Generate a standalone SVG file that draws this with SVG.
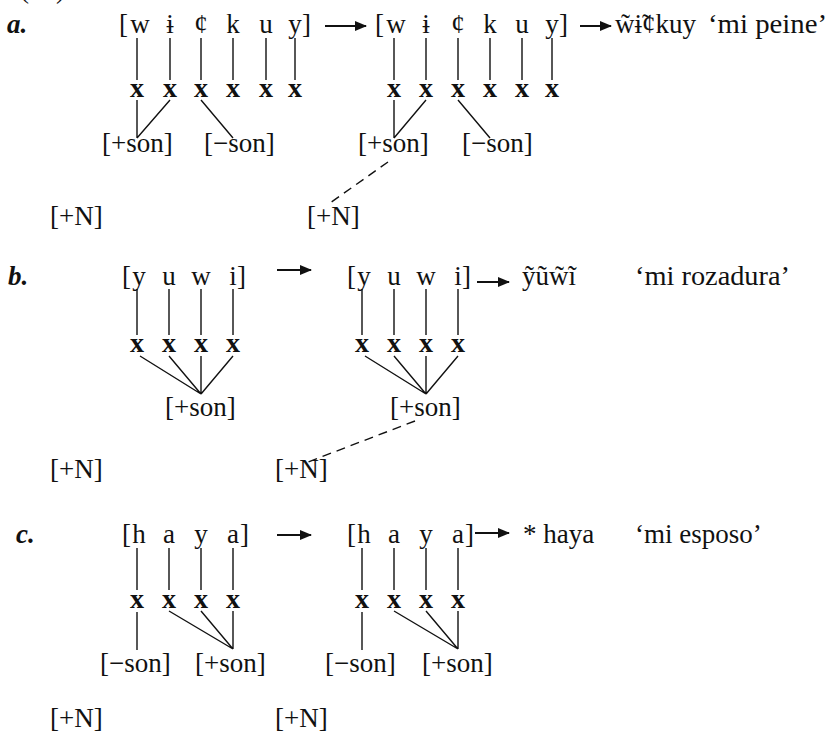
<svg xmlns="http://www.w3.org/2000/svg" width="831" height="739" viewBox="0 0 831 739">
<defs>
<style>
text{font-family:"Liberation Serif","DejaVu Serif",serif;font-size:27px;fill:#111}
.m{text-anchor:middle}
.x{font-size:28px;font-weight:bold;text-anchor:middle}
.lab{font-style:italic;font-weight:bold}
.ln{stroke:#111;stroke-width:1.4;fill:none}
.dash{stroke:#111;stroke-width:1.4;fill:none;stroke-dasharray:9 6}
.arr{stroke:#111;stroke-width:2;fill:none;marker-end:url(#ah)}
</style>
<marker id="ah" markerUnits="userSpaceOnUse" markerWidth="12" markerHeight="10" refX="11" refY="5" orient="auto">
<path d="M0,0 L12,5 L0,10 Z" fill="#111"/>
</marker>
</defs>
<rect width="831" height="739" fill="#fff"/>
<text x="20" y="-2">(31)</text>

<g id="label-a"><text class="lab" x="7" y="33">a.</text></g>
<g id="a-in-seg">
<text x="119" y="33">[</text>
<text class="m" x="140" y="33">w</text><text class="m" x="170" y="33">ɨ</text><text class="m" x="201" y="33">ȼ</text><text class="m" x="233" y="33">k</text><text class="m" x="266" y="33">u</text><text class="m" x="295" y="33">y</text>
<text x="302" y="33">]</text>
</g>
<g id="a-in-x">
<text class="x" x="137" y="97">x</text><text class="x" x="170" y="97">x</text><text class="x" x="201" y="97">x</text><text class="x" x="233" y="97">x</text><text class="x" x="266" y="97">x</text><text class="x" x="295" y="97">x</text>
</g>
<g id="a-in-son"><text x="102" y="152">[+son]</text><text x="204" y="152">[−son]</text></g>
<g id="a-in-N"><text x="50" y="225">[+N]</text></g>

<g id="a-out-seg">
<text x="375" y="33">[</text>
<text class="m" x="396" y="33">w</text><text class="m" x="426" y="33">ɨ</text><text class="m" x="458" y="33">ȼ</text><text class="m" x="490" y="33">k</text><text class="m" x="522" y="33">u</text><text class="m" x="552" y="33">y</text>
<text x="559" y="33">]</text>
</g>
<g id="a-out-x">
<text class="x" x="394" y="97">x</text><text class="x" x="426" y="97">x</text><text class="x" x="458" y="97">x</text><text class="x" x="490" y="97">x</text><text class="x" x="522" y="97">x</text><text class="x" x="552" y="97">x</text>
</g>
<g id="a-out-son"><text x="358" y="152">[+son]</text><text x="462" y="152">[−son]</text></g>
<g id="a-out-N"><text x="307" y="225">[+N]</text></g>
<g id="a-result"><text x="615" y="33">w̃ɨ̃ȼkuy</text><text x="708" y="33" textLength="119" lengthAdjust="spacingAndGlyphs">‘mi peine’</text></g>

<g id="label-b"><text class="lab" x="8" y="285">b.</text></g>
<g id="b-in-seg">
<text x="122" y="285">[</text>
<text class="m" x="139" y="285">y</text><text class="m" x="169" y="285">u</text><text class="m" x="201" y="285">w</text><text class="m" x="233" y="285">i</text>
<text x="237" y="285">]</text>
</g>
<g id="b-in-x"><text class="x" x="137" y="352">x</text><text class="x" x="169" y="352">x</text><text class="x" x="201" y="352">x</text><text class="x" x="233" y="352">x</text></g>
<g id="b-in-son"><text x="165" y="416">[+son]</text></g>
<g id="b-in-N"><text x="50" y="478">[+N]</text></g>
<g id="b-out-seg">
<text x="347" y="285">[</text>
<text class="m" x="364" y="285">y</text><text class="m" x="394" y="285">u</text><text class="m" x="426" y="285">w</text><text class="m" x="458" y="285">i</text>
<text x="462" y="285">]</text>
</g>
<g id="b-out-x"><text class="x" x="362" y="352">x</text><text class="x" x="394" y="352">x</text><text class="x" x="426" y="352">x</text><text class="x" x="458" y="352">x</text></g>
<g id="b-out-son"><text x="390" y="416">[+son]</text></g>
<g id="b-out-N"><text x="275" y="478">[+N]</text></g>
<g id="b-result"><text x="522" y="285">ỹũw̃ĩ</text><text x="635" y="285" textLength="155" lengthAdjust="spacingAndGlyphs">‘mi rozadura’</text></g>

<g id="label-c"><text class="lab" x="16" y="543">c.</text></g>
<g id="c-in-seg">
<text x="122" y="543">[</text>
<text class="m" x="139" y="543">h</text><text class="m" x="169" y="543">a</text><text class="m" x="201" y="543">y</text><text class="m" x="233" y="543">a</text>
<text x="240" y="543">]</text>
</g>
<g id="c-in-x"><text class="x" x="137" y="608">x</text><text class="x" x="169" y="608">x</text><text class="x" x="201" y="608">x</text><text class="x" x="233" y="608">x</text></g>
<g id="c-in-son"><text x="100" y="672">[−son]</text><text x="195" y="672">[+son]</text></g>
<g id="c-in-N"><text x="50" y="727">[+N]</text></g>
<g id="c-out-seg">
<text x="347" y="543">[</text>
<text class="m" x="364" y="543">h</text><text class="m" x="394" y="543">a</text><text class="m" x="426" y="543">y</text><text class="m" x="458" y="543">a</text>
<text x="465" y="543">]</text>
</g>
<g id="c-out-x"><text class="x" x="362" y="608">x</text><text class="x" x="394" y="608">x</text><text class="x" x="426" y="608">x</text><text class="x" x="458" y="608">x</text></g>
<g id="c-out-son"><text x="325" y="672">[−son]</text><text x="422" y="672">[+son]</text></g>
<g id="c-out-N"><text x="275" y="727">[+N]</text></g>
<g id="c-result"><text x="523" y="543">* haya</text><text x="635" y="543">‘mi esposo’</text></g>

<g id="connectors">
<path class="ln" d="M137,38V80 M170,38V80 M201,38V80 M233,38V80 M266,38V80 M295,38V80"/>
<path class="ln" d="M137,100V138 M170,100L137,138 M201,100L233,138"/>
<path class="ln" d="M394,38V80 M426,38V80 M458,38V80 M490,38V80 M522,38V80 M552,38V80"/>
<path class="ln" d="M394,100V138 M426,100L394,138 M458,100L490,138"/>
<path class="dash" d="M388,162L330,203"/>
<path class="arr" d="M325,26H366"/>
<path class="arr" d="M580,26H611"/>
<path class="ln" d="M137,289V335 M169,289V335 M201,289V335 M233,289V335"/>
<path class="ln" d="M140,356L201,394 M169,356L201,394 M201,356V394 M233,356L201,394"/>
<path class="ln" d="M362,289V335 M394,289V335 M426,289V335 M458,289V335"/>
<path class="ln" d="M365,356L426,394 M394,356L426,394 M426,356V394 M458,356L426,394"/>
<path class="dash" d="M415,421L308,462"/>
<path class="arr" d="M277,270H311"/>
<path class="arr" d="M477,282H509"/>
<path class="ln" d="M137,548V590 M169,548V590 M201,548V590 M233,548V590"/>
<path class="ln" d="M137,612V650 M169,611L233,649 M201,611L233,649 M233,611V649"/>
<path class="ln" d="M362,548V590 M394,548V590 M426,548V590 M458,548V590"/>
<path class="ln" d="M362,612V650 M394,611L458,649 M426,611L458,649 M458,611V649"/>
<path class="arr" d="M277,535H311"/>
<path class="arr" d="M475,533H509"/>
</g>
</svg>
